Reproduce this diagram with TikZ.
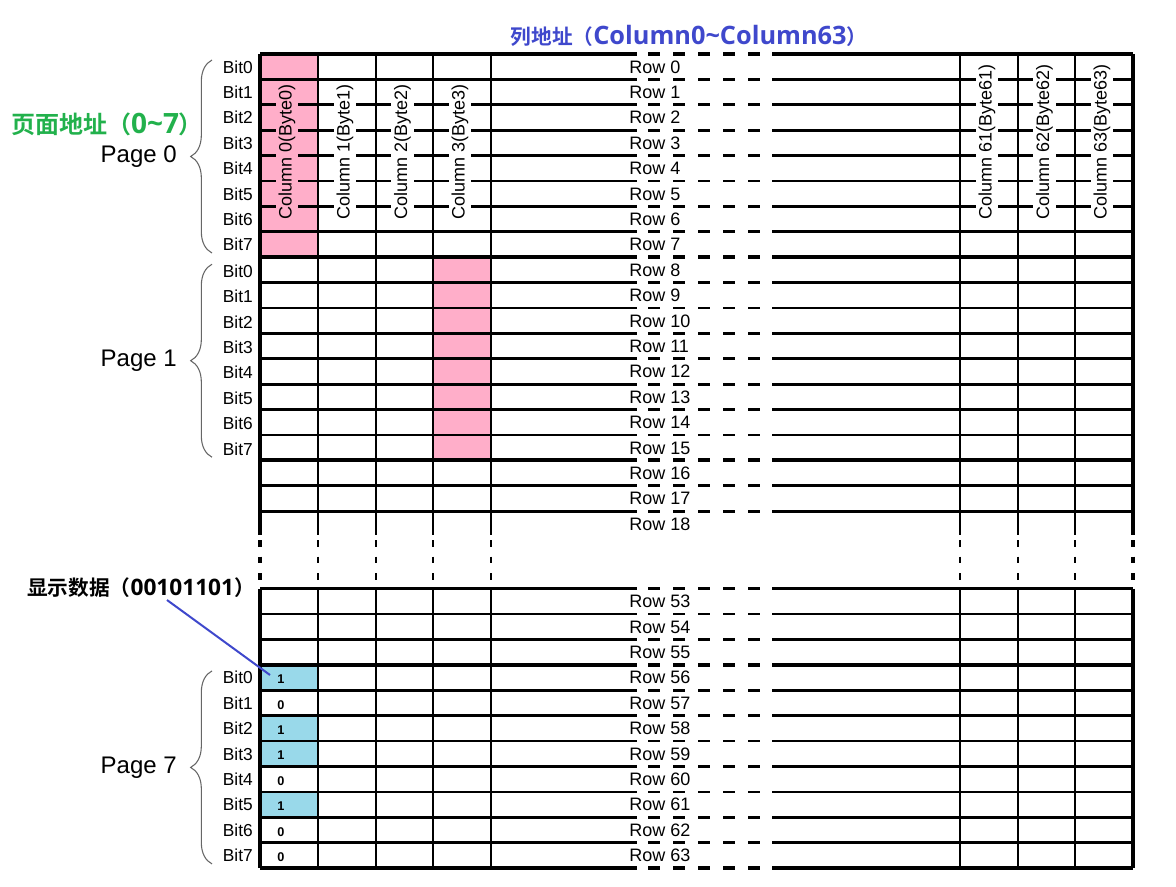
\documentclass[tikz,border=0pt]{standalone}
\usepackage{fontspec}
\setmainfont{Liberation Sans}
\newfontfamily\cjkfont{Noto Sans CJK SC Bold}
\newfontfamily\latinfont{Open Sans}
\usetikzlibrary{decorations.pathreplacing,calc}
\definecolor{cellpink}{HTML}{FFAEC9}
\definecolor{cellblue}{HTML}{99D9EA}
\definecolor{titleblue}{HTML}{3F48CC}
\definecolor{titlegreen}{HTML}{22B14C}

\begin{document}
\begin{tikzpicture}[
    x=0.75pt, y=-0.75pt,
    thinline/.style={line width=2pt},
    thickline/.style={line width=3pt},
    gapdash/.style={dash pattern=on 9pt off 9.75pt},
    breakdash/.style={dash pattern=on 5pt off 7.5pt},
    rowlbl/.style={anchor=base west, inner sep=0pt, font=\fontsize{13.5}{15}\selectfont},
    bitlbl/.style={anchor=base east, inner sep=0pt, font=\fontsize{13}{15}\selectfont},
    collbl/.style={rotate=90, anchor=west, fill=white, inner sep=2pt, font=\fontsize{13.5}{15}\selectfont},
    pagelbl/.style={anchor=base east, inner sep=0pt, font=\fontsize{18}{20}\selectfont},
    bitval/.style={inner sep=0pt, font=\fontsize{9.5}{10}\selectfont\bfseries},
    pagebrace/.style={decorate, decoration={brace, amplitude=16pt}, line width=0.8pt, black!60}
]
\useasboundingbox (0,0) rectangle (1176,886);

% coloured cells
\fill[cellpink] (260,54) rectangle (318,258.2);
\fill[cellpink] (433,258.2) rectangle (491,461.4);
\foreach \r in {56,58,59,61}
    \fill[cellblue] (260,{588.7+25.4*(\r-53)}) rectangle (318,{588.7+25.4*(\r-52)});

% row lines, upper part (rows 0-18) and lower part (rows 53-63)
\foreach \yy/\lw in {54/thickline, 79.4/thinline, 104.8/thinline, 130.2/thinline, 155.6/thinline,
                     181/thinline, 206.4/thinline, 231.8/thinline, 257.2/thickline,
                     282.6/thinline, 308/thinline, 333.4/thinline, 358.8/thinline, 384.2/thinline,
                     409.6/thinline, 435/thinline, 460.4/thickline, 485.8/thinline, 511.2/thinline,
                     588.7/thinline, 614.1/thinline, 639.5/thinline, 664.9/thickline,
                     690.3/thinline, 715.7/thinline, 741.1/thinline, 766.5/thinline,
                     791.9/thinline, 817.3/thinline, 842.7/thinline, 868.1/thickline} {
    \draw[\lw] (260,\yy) -- (637,\yy);
    \draw[\lw] (772,\yy) -- (1133,\yy);
    \draw[\lw, gapdash] (648,\yy) -- (760,\yy);
}

% column lines
\foreach \x/\lw in {260/thickline, 318/thinline, 376/thinline, 433/thinline, 491/thinline,
                    960/thinline, 1018/thinline, 1075/thinline, 1133/thickline} {
    \draw[\lw] (\x,54) -- (\x,535);
    \draw[\lw, breakdash] (\x,540) -- (\x,588.7);
    \draw[\lw] (\x,588.7) -- (\x,868.1);
}

% column labels
\node[collbl, fill=cellpink] (col0) at (287,222) {Column 0(Byte0)};
\foreach \x/\c in {345/1, 402.5/2, 460/3, 987/61, 1044.5/62, 1102/63}
    \node[collbl] (col\c) at (\x,222) {Column \c(Byte\c)};

% row labels
\foreach \r in {0,...,18}
    \node[rowlbl] (row\r) at (629,{54+25.4*\r+19}) {Row \r};
\foreach \r in {53,...,63}
    \node[rowlbl] (row\r) at (629,{588.7+25.4*(\r-53)+19}) {Row \r};

% pages with their bits
\foreach \p/\top in {0/54, 1/258.2, 7/664.9} {
    \foreach \b in {0,...,7}
        \node[bitlbl] (bit\p\b) at (253,{\top+25.4*\b+19}) {Bit\b};
    \draw[pagebrace] (212,{\top+199}) -- (212,{\top+6});
    \node[pagelbl] (page\p) at (177,{\top+108.5}) {Page \p};
}

% shown data
\foreach \b/\v in {0/1, 1/0, 2/1, 3/1, 4/0, 5/1, 6/0, 7/0}
    \node[bitval] (val\b) at (281,{664.9+25.4*\b+14.5}) {\v};

% titles
\node[anchor=base, text=titleblue, inner sep=0pt] (coltitle) at (689,44.5)
    {{\cjkfont\fontsize{15.5}{18}\selectfont 列地址（}{\latinfont\bfseries\fontsize{19}{20}\selectfont Column0\textasciitilde Column63}{\cjkfont\fontsize{15.5}{18}\selectfont ）}};
\node[anchor=base, text=titlegreen, inner sep=0pt] (pagetitle) at (107,133)
    {{\cjkfont\fontsize{18}{20}\selectfont 页面地址（}{\latinfont\bfseries\fontsize{21}{22}\selectfont 0\textasciitilde 7}{\cjkfont\fontsize{18}{20}\selectfont ）}};
\node[anchor=base, inner sep=0pt] (datalbl) at (141,595)
    {{\cjkfont\fontsize{15.5}{18}\selectfont 显示数据（}{\latinfont\bfseries\fontsize{17}{18}\selectfont 00101101}{\cjkfont\fontsize{15.5}{18}\selectfont ）}};

\coordinate (lineA) at (167,600);
\coordinate (lineB) at (270,675);
\draw[titleblue, line width=1.5pt] (lineA) -- (lineB);
\end{tikzpicture}
\end{document}
